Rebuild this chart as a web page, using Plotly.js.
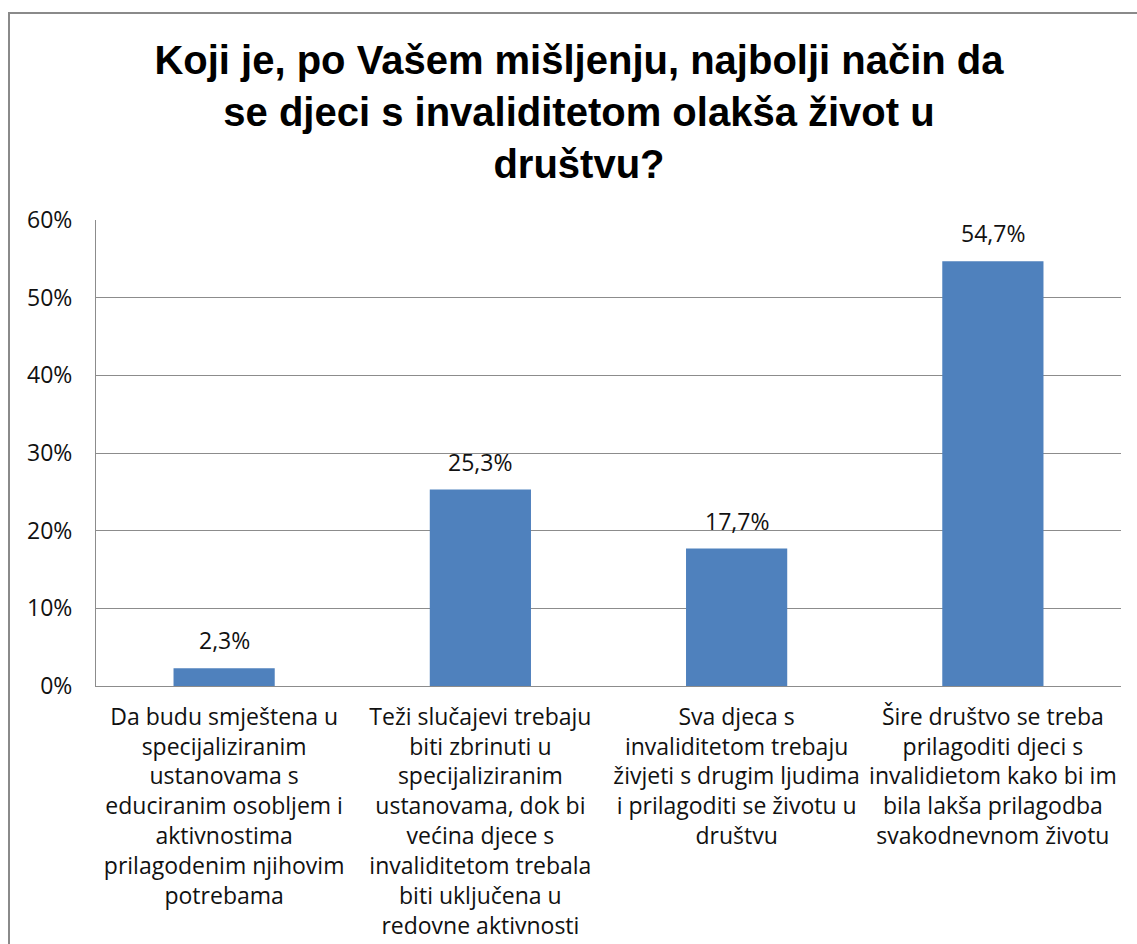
<!DOCTYPE html>
<html>
<head>
<meta charset="utf-8">
<script src="https://cdn.plot.ly/plotly-3.0.1.min.js"></script>
<style>
html,body{margin:0;padding:0;background:#fff;}
#chart{width:1137px;height:944px;}
</style>
</head>
<body>
<div id="chart"></div>
<script>
const categories = [
  "Da budu smještena u<br>specijaliziranim<br>ustanovama s<br>educiranim osobljem i<br>aktivnostima<br>prilagodenim njihovim<br>potrebama",
  "Teži slučajevi trebaju<br>biti zbrinuti u<br>specijaliziranim<br>ustanovama, dok bi<br>većina djece s<br>invaliditetom trebala<br>biti uključena u<br>redovne aktivnosti",
  "Sva djeca s<br>invaliditetom trebaju<br>živjeti s drugim ljudima<br>i prilagoditi se životu u<br>društvu",
  "Šire društvo se treba<br>prilagoditi djeci s<br>invalidietom kako bi im<br>bila lakša prilagodba<br>svakodnevnom životu"
];
const values = [2.3, 25.3, 17.7, 54.7];
const yTicks = [0, 10, 20, 30, 40, 50, 60];
const titleText = "Koji je, po Vašem mišljenju, najbolji način da<br>se djeci s invaliditetom olakša život u<br>društvu?";

const L = 96, R = 16, T = 220, B = 258, W = 1137, H = 944;
const pw = W - L - R, ph = H - T - B;
const px = v => (v - L) / pw;
const py = v => (H - B - v) / ph;

const labels = values.map(v => v.toFixed(1).replace('.', ',') + '%');

const trace = {
  type: 'bar',
  x: categories,
  y: values,
  marker: {color: '#4F81BD', line: {width: 0}},
  hoverinfo: 'skip'
};

const annotations = values.map((v, i) => ({
  x: categories[i], y: v, xref: 'x', yref: 'y',
  text: labels[i], showarrow: false, yanchor: 'bottom', yshift: 10,
  font: {family: 'Open Sans, sans-serif', size: 23, color: '#111'}
}));

const layout = {
  width: W, height: H,
  margin: {l: L, r: R, t: T, b: B, pad: 0},
  paper_bgcolor: '#fff', plot_bgcolor: '#fff',
  showlegend: false,
  bargap: 0.605,
  title: {
    text: titleText,
    x: 579 / W, xanchor: 'center', xref: 'container',
    y: 1 - 74 / H, yanchor: 'top', yref: 'container',
    font: {family: 'Liberation Sans, Arial, sans-serif', size: 40, color: '#000', weight: 'bold'}
  },
  xaxis: {
    type: 'category',
    showgrid: false, zeroline: false,
    showline: true, linecolor: '#8c8c8c', linewidth: 1,
    ticks: '', ticklabelstandoff: 10,
    tickfont: {family: 'Open Sans, sans-serif', size: 23, color: '#111'},
    fixedrange: true
  },
  yaxis: {
    range: [0, 60],
    tickvals: yTicks,
    ticktext: yTicks.map(t => t + '%'),
    showgrid: true, gridcolor: '#8c8c8c', gridwidth: 1,
    zeroline: false,
    showline: true, linecolor: '#8c8c8c', linewidth: 1,
    ticks: '', ticklabelstandoff: 18,
    tickfont: {family: 'Open Sans, sans-serif', size: 23, color: '#111'},
    fixedrange: true
  },
  annotations: annotations,
  shapes: [{
    type: 'rect', xref: 'paper', yref: 'paper',
    x0: px(9), x1: px(1150), y0: py(960), y1: py(13),
    line: {color: '#8a8a8a', width: 2}, fillcolor: 'rgba(0,0,0,0)', layer: 'below'
  }]
};

Plotly.newPlot('chart', [trace], layout, {displayModeBar: false, staticPlot: true});
</script>
</body>
</html>
